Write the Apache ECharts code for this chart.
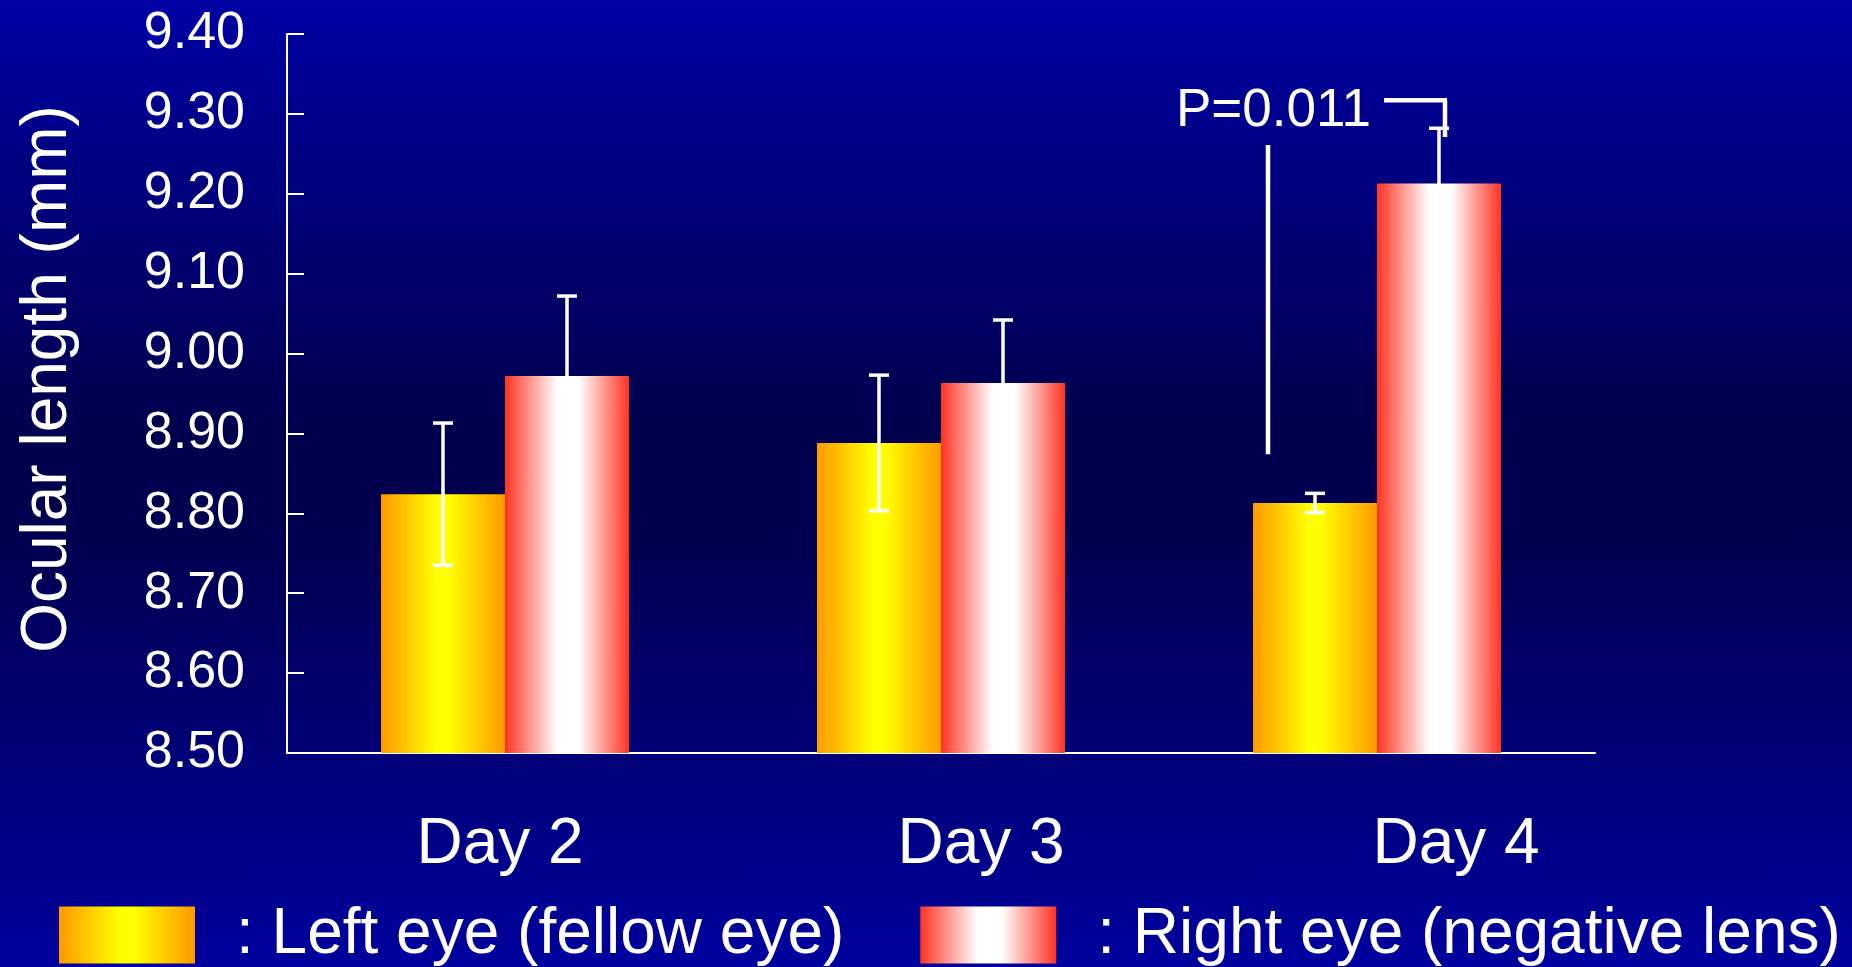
<!DOCTYPE html>
<html>
<head>
<meta charset="utf-8">
<title>Ocular length</title>
<script src="https://cdn.jsdelivr.net/npm/echarts@6/dist/echarts.min.js"></script>
<style>
    html, body { margin: 0; padding: 0; }
    #chart {
        width: 1852px;
        height: 967px;
        background: linear-gradient(to bottom, #0000a4 0%, #00004c 45%, #000050 55%, #00009e 100%);
    }
</style>
</head>
<body>
<div id="chart"></div>
<script>
const days = ['Day 2', 'Day 3', 'Day 4']
const leftEye = [8.824, 8.888, 8.813]
const leftErr = [0.089, 0.085, 0.012]
const rightEye = [8.972, 8.963, 9.213]
const rightErr = [0.1, 0.079, 0.069]
const yMin = 8.5
const yMax = 9.4
const yStep = 0.1

// significance marker above Day 4
const pLabel = 'P=0.011'
const pTextLevel = 9.303
const pBracketTop = 9.317
const pBracketDrop = 9.271
const pLineTop = 9.261
const pLineBottom = 8.874

const FONT = "'Liberation Sans', Arial, sans-serif"
const BAR_W = 124

const yellowFill = new echarts.graphic.LinearGradient(0, 0, 1, 0, [
    { offset: 0, color: '#ff9900' },
    { offset: 0.45, color: '#ffff00' },
    { offset: 0.55, color: '#ffff00' },
    { offset: 1, color: '#ff9900' }
])
const redFill = new echarts.graphic.LinearGradient(0, 0, 1, 0, [
    { offset: 0, color: '#ff3322' },
    { offset: 0.42, color: '#ffffff' },
    { offset: 0.6, color: '#ffffff' },
    { offset: 1, color: '#ff3322' }
])

function errorBars(name, means, errs, shift) {
    return {
        type: 'custom',
        name: name,
        z: 5,
        silent: true,
        data: means.map((m, i) => [i, m - errs[i], m + errs[i]]),
        renderItem: (params, api) => {
            const lo = api.coord([api.value(0), api.value(1)])
            const hi = api.coord([api.value(0), api.value(2)])
            const x = lo[0] + shift
            const style = { stroke: '#fff', lineWidth: 3.5 }
            return {
                type: 'group',
                children: [
                    { type: 'line', shape: { x1: x, y1: lo[1], x2: x, y2: hi[1] }, style },
                    { type: 'line', shape: { x1: x - 10, y1: hi[1], x2: x + 10, y2: hi[1] }, style },
                    { type: 'line', shape: { x1: x - 10, y1: lo[1], x2: x + 10, y2: lo[1] }, style }
                ]
            }
        }
    }
}

const chart = echarts.init(document.getElementById('chart'))

const option = {
    animation: false,
    textStyle: { fontFamily: FONT },
    grid: { left: 287, right: 257, top: 34, bottom: 214 },
    legend: {
        data: ['Left eye (fellow eye)', 'Right eye (negative lens)'],
        left: 59,
        top: 903,
        padding: 0,
        icon: 'rect',
        itemWidth: 136,
        itemHeight: 57,
        itemGap: 76,
        selectedMode: false,
        formatter: ': {name}',
        textStyle: { color: '#fff', fontSize: 64, fontFamily: FONT, padding: [0, 0, 0, 36] }
    },
    graphic: [{
        type: 'text',
        x: 48,
        y: 379,
        rotation: Math.PI / 2,
        style: {
            text: 'Ocular length (mm)',
            fill: '#fff',
            font: '64px ' + FONT,
            align: 'center',
            verticalAlign: 'middle'
        }
    }],
    xAxis: {
        type: 'category',
        data: days,
        axisLine: { lineStyle: { color: '#fff', width: 2 } },
        axisTick: { inside: true, length: 14, lineStyle: { color: '#fff', width: 2 } },
        axisLabel: {
            margin: 60,
            formatter: (v, i) => '{d' + i + '|' + v + '}',
            rich: {
                d0: { color: '#fff', fontSize: 64, fontFamily: FONT, padding: [0, 10, 0, 0] },
                d1: { color: '#fff', fontSize: 64, fontFamily: FONT, padding: [0, 0, 0, 80] },
                d2: { color: '#fff', fontSize: 64, fontFamily: FONT, padding: [0, 0, 0, 158] }
            }
        }
    },
    yAxis: {
        type: 'value',
        min: yMin,
        max: yMax,
        interval: yStep,
        splitLine: { show: false },
        axisLine: { show: true, lineStyle: { color: '#fff', width: 2 } },
        axisTick: { show: true, inside: true, length: 17, lineStyle: { color: '#fff', width: 2 } },
        axisLabel: {
            color: '#fff',
            fontSize: 52,
            fontFamily: FONT,
            margin: 42,
            formatter: v => v.toFixed(2)
        }
    },
    series: [
        {
            name: 'Left eye (fellow eye)',
            type: 'bar',
            barWidth: BAR_W,
            barGap: '0%',
            data: leftEye,
            itemStyle: { color: yellowFill }
        },
        {
            name: 'Right eye (negative lens)',
            type: 'bar',
            barWidth: BAR_W,
            data: rightEye,
            itemStyle: { color: redFill }
        },
        errorBars('leftErr', leftEye, leftErr, -BAR_W / 2),
        errorBars('rightErr', rightEye, rightErr, BAR_W / 2),
        {
            type: 'custom',
            name: 'pValue',
            z: 6,
            silent: true,
            data: [[2]],
            renderItem: (params, api) => {
                const at = v => api.coord([api.value(0), v])
                const cx = at(yMin)[0]
                const style = { stroke: '#fff', lineWidth: 4.5 }
                return {
                    type: 'group',
                    children: [
                        {
                            type: 'text',
                            x: cx - 6,
                            y: at(pTextLevel)[1],
                            style: { text: pLabel, fill: '#fff', font: '53px ' + FONT, align: 'right', verticalAlign: 'middle' }
                        },
                        { type: 'line', shape: { x1: cx + 7, y1: at(pBracketTop)[1], x2: cx + 70, y2: at(pBracketTop)[1] }, style },
                        { type: 'line', shape: { x1: cx + 68, y1: at(pBracketTop)[1], x2: cx + 68, y2: at(pBracketDrop)[1] }, style },
                        { type: 'line', shape: { x1: cx - 109, y1: at(pLineTop)[1], x2: cx - 109, y2: at(pLineBottom)[1] }, style }
                    ]
                }
            }
        }
    ]
}

chart.setOption(option)
</script>
</body>
</html>
